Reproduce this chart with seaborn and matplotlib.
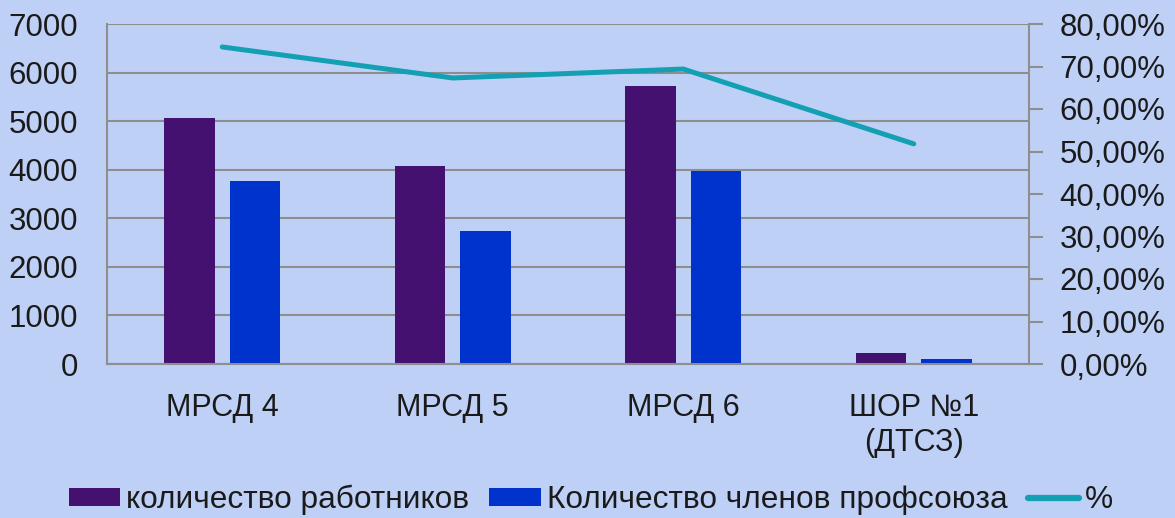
import matplotlib
matplotlib.use("Agg")
import matplotlib.pyplot as plt
import seaborn as sns
import pandas as pd
from matplotlib.patches import Patch
from matplotlib.lines import Line2D

categories = ["МРСД 4", "МРСД 5", "МРСД 6", "ШОР №1\n(ДТСЗ)"]
workers = [5060, 4080, 5720, 230]
members = [3770, 2740, 3970, 100]
percent = [74.6, 67.3, 69.4, 51.8]
series_names = ["количество работников", "Количество членов профсоюза", "%"]
left_ticks = [0, 1000, 2000, 3000, 4000, 5000, 6000, 7000]
right_ticks = [0, 10, 20, 30, 40, 50, 60, 70, 80]
right_labels = ["0,00%", "10,00%", "20,00%", "30,00%", "40,00%", "50,00%", "60,00%", "70,00%", "80,00%"]

BG = "#BED0F6"
C_PURPLE = "#441171"
C_BLUE = "#0033CC"
C_TEAL = "#13A0B3"
GRID = "#8E8E8E"
TXT = "#1A1A1A"

sns.set_theme(style="white")
plt.rcParams["font.family"] = ["Liberation Sans", "DejaVu Sans"]

df = pd.DataFrame({
    "cat": categories * 2,
    "value": workers + members,
    "series": [series_names[0]] * 4 + [series_names[1]] * 4,
})

fig = plt.figure(figsize=(11.75, 5.18), dpi=100, facecolor=BG)
ax = fig.add_axes([107 / 1175, 1 - 364 / 518, (1029 - 107) / 1175, (364 - 24) / 518])
ax.set_facecolor(BG)

sns.barplot(data=df, x="cat", y="value", hue="series", order=categories,
            hue_order=series_names[:2], palette=[C_PURPLE, C_BLUE],
            width=0.57, gap=0.23, ax=ax, legend=False, errorbar=None,
            saturation=1, edgecolor="none")

ax.set_xlim(-0.5, 3.5)
ax.set_ylim(0, 7000)
ax.set_yticks(left_ticks)
ax.set_yticklabels([str(t) for t in left_ticks])
ax.yaxis.grid(True, color=GRID, linewidth=1.5)
ax.set_axisbelow(True)
ax.set_xlabel("")
ax.set_ylabel("")
ax.tick_params(axis="both", length=0, colors=TXT)
ax.tick_params(axis="x", pad=21, labelsize=22)
ax.tick_params(axis="y", pad=21, labelsize=22.5)
for lbl in ax.get_xticklabels():
    lbl.set_linespacing(1.2)
for s in ["top", "right"]:
    ax.spines[s].set_visible(False)
for s in ["left", "bottom"]:
    ax.spines[s].set_color(GRID)
    ax.spines[s].set_linewidth(1.5)

ax2 = ax.twinx()
sns.lineplot(x=list(range(len(categories))), y=percent, ax=ax2, color=C_TEAL,
             linewidth=3.6, solid_capstyle="round", legend=False)
ax2.set_ylim(0, 80)
ax2.set_yticks(right_ticks)
ax2.set_yticklabels(right_labels)
ax2.tick_params(axis="y", length=10, width=1.5, color=GRID, labelsize=22.5, colors=TXT, pad=12)
ax2.tick_params(axis="y", color=GRID)
for s in ["top", "left", "bottom"]:
    ax2.spines[s].set_visible(False)
ax2.spines["right"].set_color(GRID)
ax2.spines["right"].set_linewidth(1.5)
ax2.set_ylabel("")
ax2.grid(False)

handles = [Patch(facecolor=C_PURPLE, edgecolor="none"),
           Patch(facecolor=C_BLUE, edgecolor="none"),
           Line2D([0], [0], color=C_TEAL, linewidth=4.5, solid_capstyle="round")]
fig.legend(handles, series_names, loc="center", bbox_to_anchor=(591 / 1175, 1 - 500 / 518),
           ncol=3, frameon=False, fontsize=22.8, handlelength=1.63, handleheight=0.5,
           handletextpad=0.19, columnspacing=0.63, labelcolor=TXT)

fig.savefig("out.png", dpi=100, facecolor=BG)
